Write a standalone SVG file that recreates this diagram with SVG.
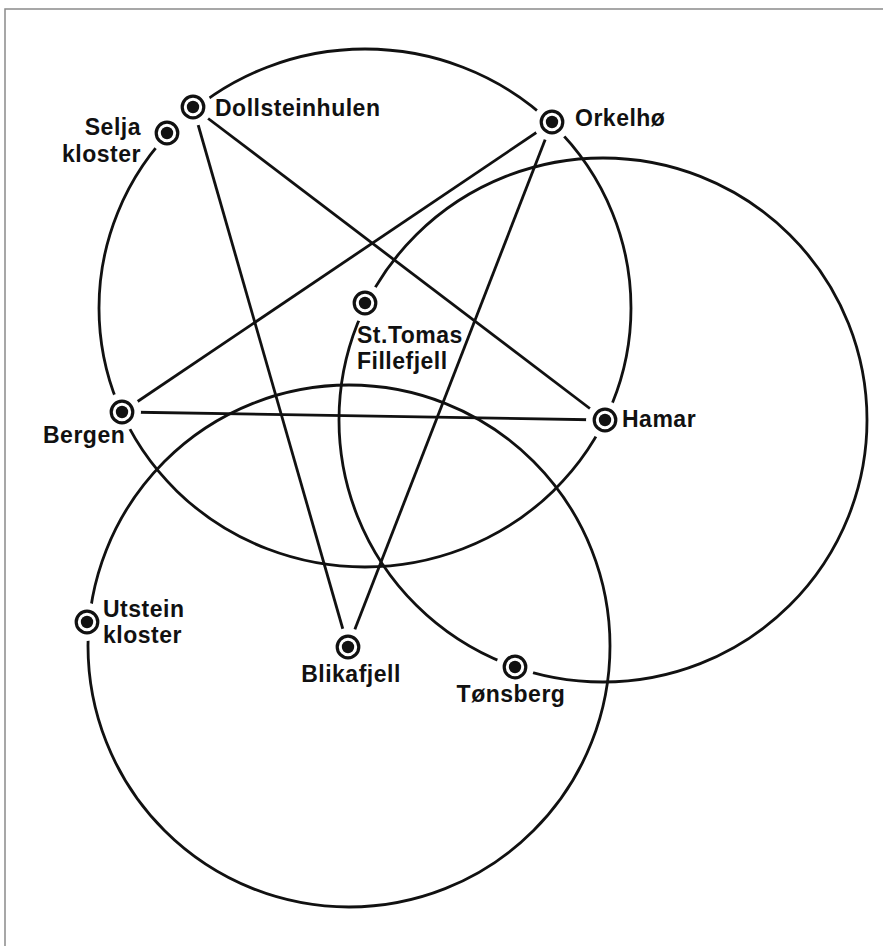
<svg xmlns="http://www.w3.org/2000/svg" width="883" height="946" viewBox="0 0 883 946">
<style>
.frame{fill:none;stroke:#8a8a8a;stroke-width:1.5}
.ring{fill:none;stroke:#111;stroke-width:2.8}
.edge{stroke:#111;stroke-width:2.8;stroke-linecap:butt;fill:none}
.halo{fill:#fff;stroke:none}
.mk{fill:none;stroke:#111;stroke-width:3.2}
.dot{fill:#111}
.lbl{font-family:"Liberation Sans",Arial,Helvetica,sans-serif;font-weight:bold;font-size:23px;letter-spacing:0.5px;fill:#111}
</style>
<defs>
<g id="marker">
<circle class="halo" r="19"/>
<circle class="mk" r="10.8"/>
<circle class="dot" r="6.2"/>
</g>
</defs>
<rect class="frame" x="5" y="9" width="900" height="960"/>
<g id="circles">
<ellipse class="ring" cx="365" cy="308" rx="266" ry="259"/>
<ellipse class="ring" cx="603" cy="420" rx="264" ry="262"/>
<circle class="ring" cx="349" cy="646" r="261"/>
</g>
<g id="connectors">
<line class="edge" x1="193" y1="107" x2="348" y2="647"/>
<line class="edge" x1="193" y1="107" x2="605" y2="420"/>
<line class="edge" x1="552" y1="122" x2="122" y2="412"/>
<line class="edge" x1="552" y1="122" x2="348" y2="647"/>
<line class="edge" x1="122" y1="412" x2="605" y2="420"/>
</g>
<g id="dollsteinhulen">
<use href="#marker" x="193" y="107"/>
<text class="lbl" x="215" y="116">Dollsteinhulen</text>
</g>
<g id="selja-kloster">
<use href="#marker" x="167" y="133"/>
<text class="lbl" x="141" y="135" text-anchor="end">Selja</text>
<text class="lbl" x="141" y="162" text-anchor="end">kloster</text>
</g>
<g id="orkelho">
<use href="#marker" x="552" y="122"/>
<text class="lbl" x="575" y="126">Orkelhø</text>
</g>
<g id="st-tomas-fillefjell">
<use href="#marker" x="365" y="303"/>
<text class="lbl" x="357" y="343">St.Tomas</text>
<text class="lbl" x="357" y="369">Fillefjell</text>
</g>
<g id="bergen">
<use href="#marker" x="122" y="412"/>
<text class="lbl" x="43" y="443">Bergen</text>
</g>
<g id="hamar">
<use href="#marker" x="605" y="420"/>
<text class="lbl" x="622" y="427">Hamar</text>
</g>
<g id="utstein-kloster">
<use href="#marker" x="87" y="622"/>
<text class="lbl" x="103" y="617">Utstein</text>
<text class="lbl" x="103" y="643">kloster</text>
</g>
<g id="blikafjell">
<use href="#marker" x="348" y="647"/>
<text class="lbl" x="351" y="682" text-anchor="middle">Blikafjell</text>
</g>
<g id="tonsberg">
<use href="#marker" x="515" y="667"/>
<text class="lbl" x="511" y="702" text-anchor="middle">Tønsberg</text>
</g>
</svg>
